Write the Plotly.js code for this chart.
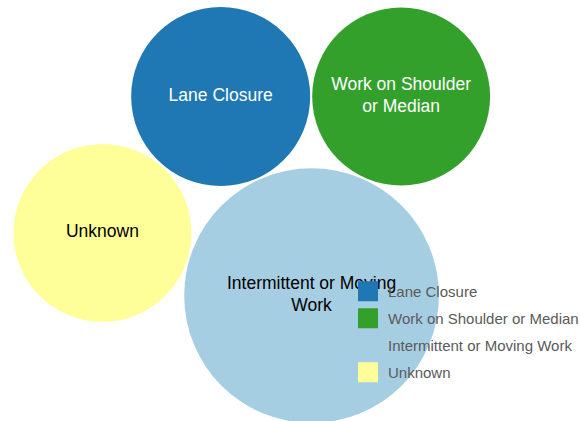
<!DOCTYPE html>
<html>
<head>
<meta charset="utf-8">
<script src="https://cdn.plot.ly/plotly-3.0.1.min.js"></script>
<style>
  html, body { margin: 0; padding: 0; background: #ffffff; }
  #chart { width: 580px; height: 421px; }
</style>
</head>
<body>
<div id="chart"></div>
<script>
// ---- data ----
const categories = ['Lane Closure', 'Work on Shoulder or Median', 'Intermittent or Moving Work', 'Unknown'];
const counts = [81, 80, 164, 80];
const colors = ['#1f78b4', '#33a02c', '#a6cee3', '#ffff99'];
const labelColors = ['#ffffff', '#ffffff', '#000000', '#000000'];

// ---- layout constants ----
const W = 580, H = 421;
const FONT = '"Liberation Sans", Arial, sans-serif';
const LABEL_SIZE = 17.5;
const PAD = 0.1;           // half gap between circles (value units)
const PAD_TOP = 7, PAD_BOTTOM = -2, PAD_LEFT = 13.5;

// ---- circle packing (sibling packing around the first circle) ----
const R = counts.map(v => Math.sqrt(v) + PAD);
const cx = [], cy = [];
cx[0] = -R[1]; cy[0] = 0;
cx[1] = R[0];  cy[1] = 0;
function tangent(a, b, rc) {
  const dx = cx[b] - cx[a], dy = cy[b] - cy[a], d = Math.hypot(dx, dy);
  const da = R[a] + rc, db = R[b] + rc;
  const t = (da * da - db * db + d * d) / (2 * d);
  const h = Math.sqrt(Math.max(0, da * da - t * t));
  const ux = dx / d, uy = dy / d;
  return [cx[a] + t * ux - h * uy, cy[a] + t * uy + h * ux];
}
for (let i = 2; i < counts.length; i++) {
  const p = tangent(0, i - 1, R[i]);
  cx[i] = p[0]; cy[i] = p[1];
}
const rad = R.map(r => r - PAD);
// plotly y goes up
const px = cx.slice();
const py = cy.map(v => -v);

const minX = Math.min(...px.map((x, i) => x - rad[i]));
const maxY = Math.max(...py.map((y, i) => y + rad[i]));
const minY = Math.min(...py.map((y, i) => y - rad[i]));
const s = (H - PAD_TOP - PAD_BOTTOM) / (maxY - minY); // px per unit
const x0 = minX - PAD_LEFT / s;
const yTop = maxY + PAD_TOP / s;

// ---- label wrapping ----
const ctx = document.createElement('canvas').getContext('2d');
ctx.font = LABEL_SIZE + 'px ' + FONT;
function wrap(text, maxW) {
  const words = text.split(' ');
  const lines = [];
  let cur = '';
  words.forEach(w => {
    const trial = cur ? cur + ' ' + w : w;
    if (cur && ctx.measureText(trial).width > maxW) { lines.push(cur); cur = w; }
    else cur = trial;
  });
  if (cur) lines.push(cur);
  return lines.join('<br>');
}
const labels = categories.map((c, i) => wrap(c, 0.8 * 2 * rad[i] * s));

// ---- shapes: circles ----
const shapes = categories.map((c, i) => ({
  type: 'circle', xref: 'x', yref: 'y', layer: 'below',
  x0: px[i] - rad[i], x1: px[i] + rad[i],
  y0: py[i] - rad[i], y1: py[i] + rad[i],
  fillcolor: colors[i], line: { width: 0 }
}));

// ---- traces ----
const traces = [{
  type: 'scatter', mode: 'text',
  x: px, y: py, text: labels,
  textposition: 'middle center',
  textfont: { family: FONT, size: LABEL_SIZE, color: labelColors },
  hoverinfo: 'skip', showlegend: false
}];
categories.forEach((c, i) => {
  traces.push({
    type: 'scatter', mode: 'markers', x: [null], y: [null],
    name: c, legendgroup: 'g' + i, showlegend: true,
    marker: { symbol: 'square', size: 16, color: colors[i], line: { color: colors[i], width: 4 } },
    hoverinfo: 'skip'
  });
});

const layout = {
  width: W, height: H,
  margin: { l: 0, r: 0, t: 0, b: 0, pad: 0, autoexpand: false },
  paper_bgcolor: '#ffffff', plot_bgcolor: '#ffffff',
  xaxis: { range: [x0, x0 + W / s], visible: false, fixedrange: true },
  yaxis: { range: [yTop - H / s, yTop], visible: false, fixedrange: true },
  shapes: shapes,
  showlegend: true,
  legend: {
    xref: 'container', yref: 'container',
    x: 348 / W, xanchor: 'left', y: 1 - 275 / H, yanchor: 'top',
    bgcolor: 'rgba(0,0,0,0)', borderwidth: 0,
    font: { family: FONT, size: 15, color: '#5a5a5a' },
    tracegroupgap: 4.5, traceorder: 'grouped'
  },
  hovermode: false
};

Plotly.newPlot('chart', traces, layout, { displayModeBar: false, staticPlot: true });
</script>
</body>
</html>
